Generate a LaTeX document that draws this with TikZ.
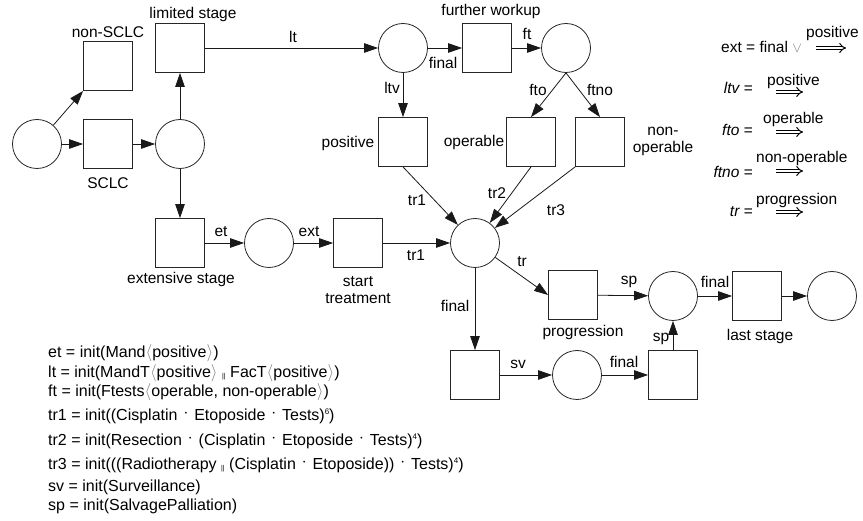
\documentclass[tikz,border=0pt]{standalone}
\usepackage{fontspec}
\setmainfont{Liberation Sans}
\usetikzlibrary{arrows.meta}
\newcommand{\myla}{{\color{gray}$\langle$}}
\newcommand{\myra}{{\color{gray}$\rangle$}}
\newcommand{\mydot}{\hspace{1.5pt}\raisebox{3pt}{$\cdot$}\hspace{1.5pt}}
\newcommand{\mypar}{\raisebox{-0.5pt}{\fontsize{7}{7}\selectfont ||}}
\newcommand{\mysup}[1]{\raisebox{6pt}{\fontsize{8}{8}\selectfont #1}}
\begin{document}
\begin{tikzpicture}[x=1pt,y=-1pt,font=\fontsize{15.5}{17}\selectfont,
  place/.style={circle,draw=black!85,line width=0.8pt,minimum size=49pt,inner sep=0pt},
  trans/.style={rectangle,draw=black!85,line width=0.8pt,minimum size=49pt,inner sep=0pt},
  arc/.style={draw=black!90,line width=0.8pt,-{Triangle[length=14pt,width=9.5pt]}},
  lbl/.style={inner sep=0pt},
  formula/.style={inner sep=0pt,anchor=base west},
  guard/.style={inner sep=0pt,anchor=base east},
  impl/.style={double,double distance=2.4pt,line width=1pt,-{Implies[length=5pt,width=9pt]}},
  defn/.style={inner sep=0pt,anchor=base west,font=\fontsize{16}{18}\selectfont}]
\useasboundingbox (0,0) rectangle (863,521);
% places
\node[place] (p0) at (37,144) {};
\node[place] (p1) at (180,144) {};
\node[place] (p2) at (269,243) {};
\node[place] (pc) at (475,243) {};
\node[place] (plt) at (403,48) {};
\node[place] (pft) at (566,48) {};
\node[place] (psp) at (673,296) {};
\node[place] (pend) at (832,296) {};
\node[place] (psv) at (577,375) {};
% transitions
\node[trans] (tnon) at (108,66) {};
\node[trans] (tsclc) at (108,144) {};
\node[trans] (tlim) at (180,48) {};
\node[trans] (text) at (180,243) {};
\node[trans] (tstart) at (358,243) {};
\node[trans] (tfw) at (487,48) {};
\node[trans] (tpos) at (403,142) {};
\node[trans] (top) at (531,142) {};
\node[trans] (tnop) at (600,142) {};
\node[trans] (tprog) at (573,295) {};
\node[trans] (tlast) at (757,296) {};
\node[trans] (tsv) at (475,375) {};
\node[trans] (tsp) at (673,375) {};
% node labels
\node[lbl] (l-non) at (108,32) {non-SCLC};
\node[lbl] (l-sclc) at (108,183) {SCLC};
\node[lbl] (l-lim) at (193,14) {limited stage};
\node[lbl] (l-ext) at (181,279) {extensive stage};
\node[lbl,align=center] (l-start) at (358,290) {start\\treatment};
\node[lbl] (l-fw) at (491,11) {further workup};
\node[lbl] (l-pos) at (348,143) {positive};
\node[lbl] (l-op) at (474,142) {operable};
\node[lbl,align=center] (l-nop) at (663,141) {non-\\operable};
\node[lbl] (l-prog) at (583,332) {progression};
\node[lbl] (l-last) at (760,336) {last stage};
% arcs
\draw[arc] (p0) -- (tnon.south west);
\draw[arc] (p0) -- (tsclc);
\draw[arc] (tsclc) -- (p1);
\draw[arc] (p1) -- (tlim);
\draw[arc] (p1) -- (text);
\draw[arc] (tlim) -- (plt) node[lbl] (e-lt) at (293,37) {lt};
\draw[arc] (plt) -- (tfw) node[lbl] (e-final1) at (443,63) {final};
\draw[arc] (tfw) -- (pft) node[lbl] (e-ft) at (527,34) {ft};
\draw[arc] (plt) -- (tpos) node[lbl] (e-ltv) at (392,88) {ltv};
\draw[arc] (pft.south) -- (top.north) node[lbl] (e-fto) at (538,90) {fto};
\draw[arc] (pft.south) -- (tnop.north) node[lbl] (e-ftno) at (600,90) {ftno};
\draw[arc] (tpos.south) -- (pc) node[lbl] (e-tr1a) at (417,200) {tr1};
\draw[arc] (top.south) -- (pc) node[lbl] (e-tr2) at (497,193) {tr2};
\draw[arc] (tnop.south west) -- (pc) node[lbl] (e-tr3) at (556,210) {tr3};
\draw[arc] (text) -- (p2) node[lbl] (e-et) at (221,232) {et};
\draw[arc] (p2) -- (tstart) node[lbl] (e-ext) at (309,232) {ext};
\draw[arc] (tstart) -- (pc) node[lbl] (e-tr1b) at (416,255) {tr1};
\draw[arc] (pc) -- (tprog.west) node[lbl] (e-tr) at (522,262) {tr};
\draw[arc] (pc) -- (tsv) node[lbl] (e-final2) at (455,306) {final};
\draw[arc] (tprog) -- (psp) node[lbl] (e-sp1) at (629,282) {sp};
\draw[arc] (psp) -- (tlast) node[lbl] (e-final3) at (715,282) {final};
\draw[arc] (tlast) -- (pend);
\draw[arc] (tsv) -- (psv) node[lbl] (e-sv) at (518,364) {sv};
\draw[arc] (psv) -- (tsp) node[lbl] (e-final4) at (624,362) {final};
\draw[arc] (tsp) -- (psp) node[lbl] (e-sp2) at (661,339) {sp};
% guard definitions (right)
\node[formula] (r-ext) at (721,53) {ext = final {\color{gray}$\vee$}};
\node[formula] (r-ext-l) at (806,38) {positive};
\draw[impl] (816,48) -- (846,48);
\node[guard] (r-ltv) at (753,94) {\textit{ltv =}};
\node[formula] (r-ltv-l) at (767,86) {positive};
\draw[impl] (776,92) -- (803,92);
\node[guard] (r-fto) at (753,136) {\textit{fto =}};
\node[formula] (r-fto-l) at (763,124) {operable};
\draw[impl] (776,132) -- (803,132);
\node[guard] (r-ftno) at (753,178) {\textit{ftno =}};
\node[formula] (r-ftno-l) at (756,163) {non-operable};
\draw[impl] (776,171) -- (803,171);
\node[guard] (r-tr) at (753,217) {\textit{tr =}};
\node[formula] (r-tr-l) at (756,205) {progression};
\draw[impl] (776,212) -- (803,212);
% definitions (bottom)
\node[defn] (f-et) at (48,358) {et = init(Mand\myla positive\myra)};
\node[defn] (f-lt) at (48,378) {lt = init(MandT\myla positive\myra\ \mypar\ FacT\myla positive\myra)};
\node[defn] (f-ft) at (48,397) {ft = init(Ftests\myla operable, non-operable\myra)};
\node[defn] (f-tr1) at (48,421) {tr1 = init((Cisplatin \mydot\ Etoposide \mydot\ Tests)\mysup{6})};
\node[defn] (f-tr2) at (48,446) {tr2 = init(Resection \mydot\ (Cisplatin \mydot\ Etoposide \mydot\ Tests)\mysup{4})};
\node[defn] (f-tr3) at (48,470) {tr3 = init(((Radiotherapy \mypar\ (Cisplatin \mydot\ Etoposide)) \mydot\ Tests)\mysup{4})};
\node[defn] (f-sv) at (48,491) {sv = init(Surveillance)};
\node[defn] (f-sp) at (48,511) {sp = init(SalvagePalliation)};
\end{tikzpicture}
\end{document}
